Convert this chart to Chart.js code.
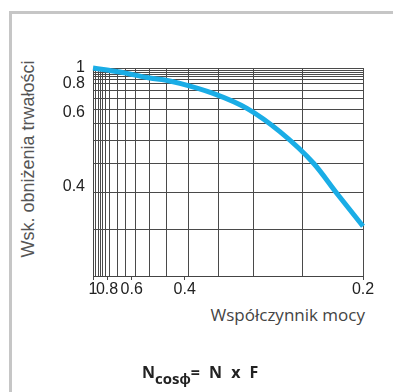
<!DOCTYPE html>
<html>
<head>
<meta charset="utf-8">
<script src="https://cdn.jsdelivr.net/npm/chart.js@4/dist/chart.umd.min.js"></script>
<style>
  body { margin: 0; width: 393px; height: 392px; overflow: hidden; position: relative; background: #fff; }
  #frame { position: absolute; left: 9px; top: 11px; width: 420px; height: 420px; border: 3px solid #c6c6c6; }
  #ytitle { position: absolute; left: -82px; top: 149px; width: 220px; height: 20px; line-height: 20px;
    transform: rotate(-90deg); text-align: center; font: 18px 'Liberation Sans', sans-serif; color: #555; white-space: nowrap; }
  #xtitle { position: absolute; right: 28px; top: 303px; line-height: 24px; font: 17px 'Open Sans', sans-serif; color: #444; white-space: nowrap; }
  #formula { position: absolute; left: 142px; top: 361px; font: bold 16px 'Open Sans', sans-serif; color: #222; word-spacing: 5px; white-space: nowrap; }
  #formula sub { font-size: 15px; vertical-align: -6px; word-spacing: 0; }
  canvas { position: absolute; left: 0; top: 0; }
</style>
</head>
<body>
<div id="frame"></div>
<div id="ytitle">Wsk. obniżenia trwałości</div>
<div id="xtitle">Współczynnik mocy</div>
<canvas id="c" width="393" height="392"></canvas>
<div id="formula">N<sub>cosϕ</sub>= N x F</div>
<script>
// curve
const cosPhi = [1, 0.8, 0.68, 0.51, 0.455, 0.412, 0.342, 0.293, 0.258, 0.2305, 0.215, 0.2];
const lifeFactor = [1, 0.965, 0.935, 0.856, 0.834, 0.799, 0.714, 0.622, 0.526, 0.4425, 0.389, 0.346];

// grid lines of the printed chart paper
const xGrid = [1, 0.953, 0.917, 0.888, 0.855, 0.823, 0.771, 0.703, 0.638, 0.577, 0.51, 0.45, 0.392, 0.333, 0.285, 0.239, 0.2];
const yGrid = [1, 0.955, 0.925, 0.9, 0.872, 0.841, 0.8, 0.734, 0.68, 0.617, 0.556, 0.498, 0.441, 0.39, 0.343, 0.3];

// labelled ticks
const xTickValues = [1, 0.8, 0.6, 0.4, 0.2];
const xTickLabels = ['1', '0.8', '0.6', '0.4', '0.2'];
const yTickValues = [1, 0.8, 0.6, 0.4];
const yTickLabels = ['1', '0.8', '0.6', '0.4'];

// power-law axis (the paper is squeezed towards 1 on both axes)
class PowerScale extends Chart.LinearScale {
  configure() {
    super.configure();
    const p = this.options.power;
    this._fStart = Math.pow(this.min, p);
    this._fRange = Math.pow(this.max, p) - this._fStart;
  }
  getPixelForValue(v) {
    const p = this.options.power;
    return this.getPixelForDecimal((Math.pow(v, p) - this._fStart) / this._fRange);
  }
  getValueForPixel(px) {
    const p = this.options.power;
    return Math.pow(this._fStart + this.getDecimalForPixel(px) * this._fRange, 1 / p);
  }
}
PowerScale.id = 'power';
Chart.register(PowerScale);

Chart.defaults.font.family = "'Liberation Sans', sans-serif";

const union = (a, b) => Array.from(new Set(a.concat(b))).sort((m, n) => n - m);
const lineColor = '#4a4a4a';

new Chart(document.getElementById('c'), {
  type: 'line',
  data: {
    datasets: [{
      data: cosPhi.map((x, i) => ({ x: x, y: lifeFactor[i] })),
      borderColor: '#1aade6',
      borderWidth: 5,
      pointRadius: 0,
      cubicInterpolationMode: 'monotone',
      clip: 5
    }]
  },
  options: {
    responsive: false,
    animation: false,
    devicePixelRatio: 1,
    layout: { padding: { left: 0, top: 68, right: 30, bottom: 64 } },
    plugins: { legend: { display: false }, tooltip: { enabled: false } },
    scales: {
      x: {
        type: 'power',
        power: -1.2,
        reverse: true,
        min: 0.2,
        max: 1,
        position: 'bottom',
        afterBuildTicks: s => { s.ticks = union(xGrid, xTickValues).map(v => ({ value: v })); },
        afterFit: s => { s.height = 52; },
        grid: {
          color: ctx => xGrid.includes(ctx.tick.value) ? lineColor : 'transparent',
          tickColor: ctx => xTickValues.includes(ctx.tick.value) ? lineColor : 'transparent',
          tickLength: 4
        },
        border: { color: '#444' },
        ticks: {
          autoSkip: false,
          maxRotation: 0,
          padding: 0,
          color: '#222',
          font: { size: 16 },
          callback: v => { const i = xTickValues.indexOf(v); return i < 0 ? '' : xTickLabels[i]; }
        }
      },
      y: {
        type: 'power',
        power: -1.6,
        min: 0.3,
        max: 1,
        afterBuildTicks: s => { s.ticks = union(yGrid, yTickValues).map(v => ({ value: v })); },
        afterFit: s => { s.width = 93; },
        grid: {
          color: ctx => yGrid.includes(ctx.tick.value) ? lineColor : 'transparent',
          drawTicks: false
        },
        border: { color: '#444' },
        ticks: {
          autoSkip: false,
          padding: 8,
          color: '#222',
          font: { size: 16 },
          callback: v => { const i = yTickValues.indexOf(v); return i < 0 ? '' : yTickLabels[i]; }
        }
      }
    }
  }
});
</script>
</body>
</html>
